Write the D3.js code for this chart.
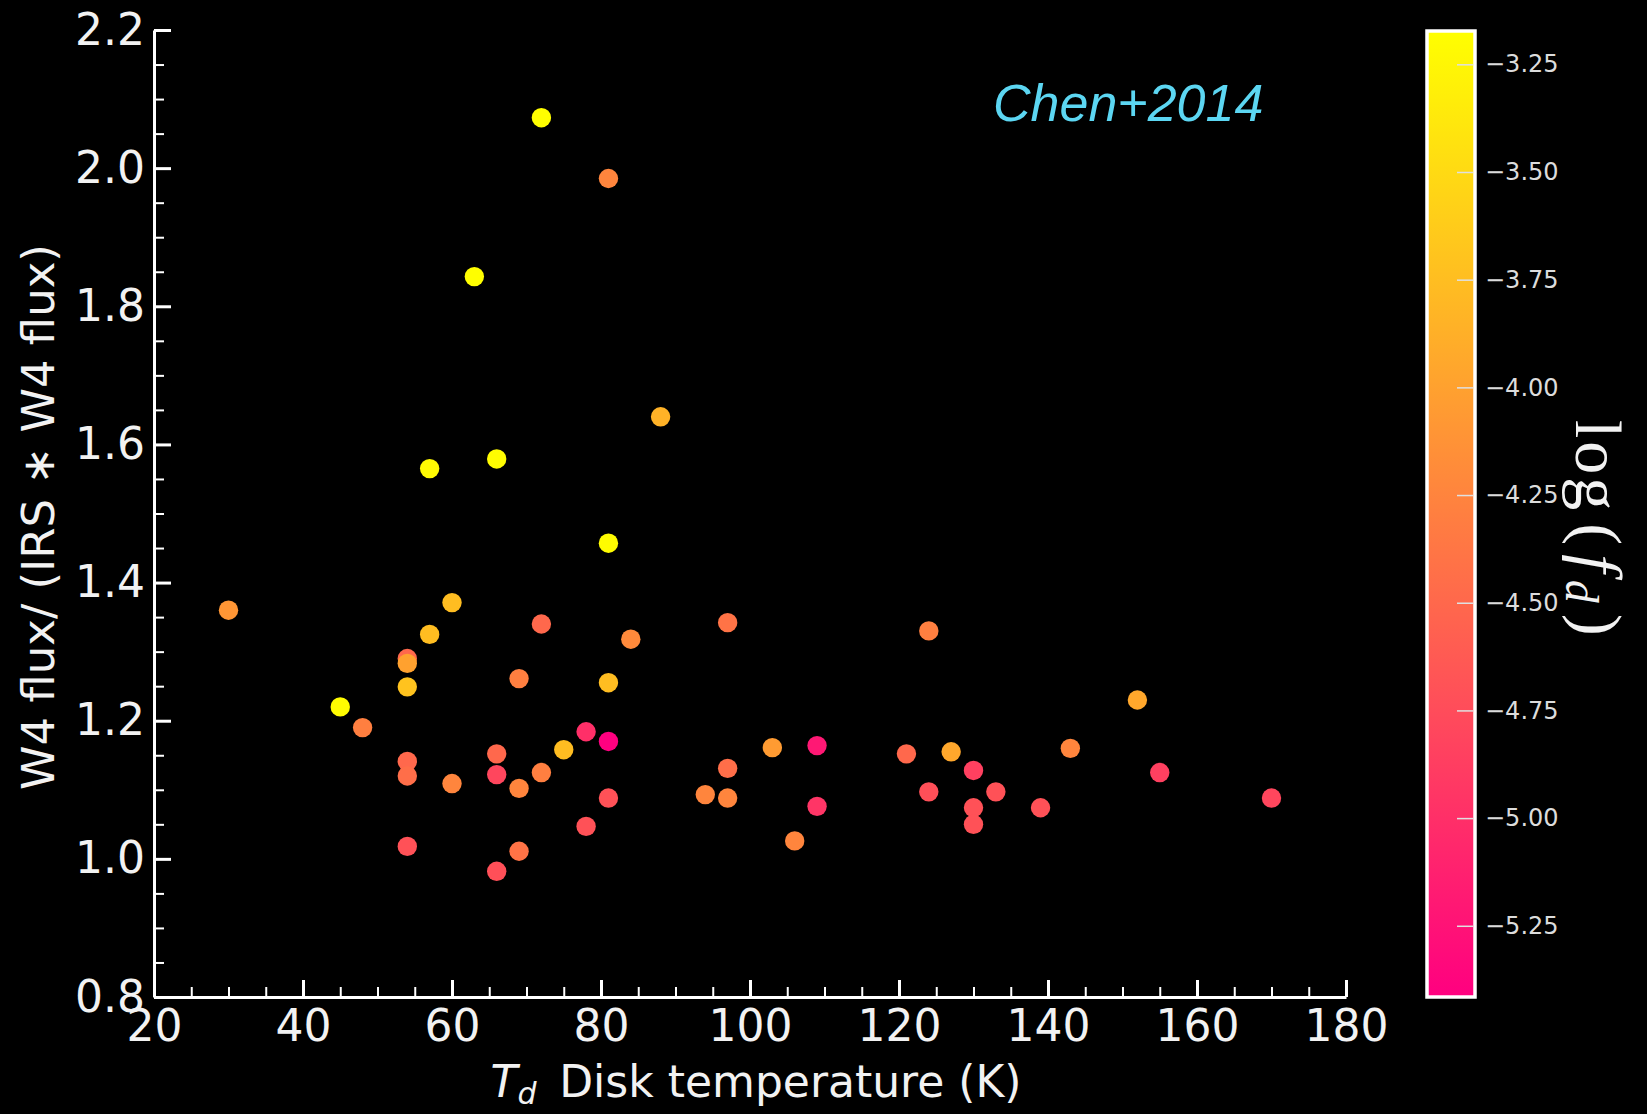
<!DOCTYPE html>
<html>
<head>
<meta charset="utf-8">
<script src="https://cdn.jsdelivr.net/npm/d3@7/dist/d3.min.js"></script>
<style>
  html, body { margin: 0; padding: 0; background: #000; }
  svg { display: block; }
  text { font-family: "DejaVu Sans", sans-serif; }
</style>
</head>
<body>
<div id="chart"></div>
<script>
// disk temperature (K)
var tempK = [30, 45, 48, 54, 54, 54, 54, 54, 54, 57, 57, 60, 60, 63, 66, 66, 66, 66,
  69, 69, 69, 72, 72, 72, 75, 78, 78, 81, 81, 81, 81, 81, 84, 88, 94, 97, 97, 97,
  103, 106, 109, 109, 121, 124, 124, 127, 130, 130, 130, 133, 139, 143, 152, 155, 170]
// W4 flux / (IRS * W4 flux)
var fluxRatio = [1.360, 1.220, 1.190, 1.290, 1.283, 1.249, 1.141, 1.120, 1.018, 1.565, 1.325, 1.109, 1.371, 1.843, 1.579, 1.152, 1.122, 0.982,
  1.261, 1.102, 1.011, 2.073, 1.340, 1.125, 1.158, 1.184, 1.047, 1.985, 1.457, 1.255, 1.170, 1.088, 1.318, 1.640, 1.093, 1.342, 1.131, 1.088,
  1.161, 1.026, 1.164, 1.076, 1.152, 1.330, 1.097, 1.155, 1.128, 1.074, 1.050, 1.097, 1.074, 1.160, 1.230, 1.125, 1.088]
// log(f_d)
var logFd = [-4.10, -3.20, -4.30, -4.50, -4.00, -3.70, -4.50, -4.45, -4.70, -3.22, -3.75, -4.25, -3.75, -3.18, -3.20, -4.50, -4.80, -4.72,
  -4.30, -4.25, -4.40, -3.18, -4.50, -4.30, -3.75, -5.00, -4.70, -4.25, -3.20, -3.75, -5.41, -4.70, -4.20, -3.85, -4.25, -4.40, -4.45, -4.25,
  -4.05, -4.25, -5.20, -4.95, -4.50, -4.30, -4.72, -3.95, -4.85, -4.70, -4.70, -4.70, -4.70, -4.25, -3.95, -4.85, -4.80]

var xTicks = [20, 40, 60, 80, 100, 120, 140, 160, 180]
var yTicks = [0.8, 1.0, 1.2, 1.4, 1.6, 1.8, 2.0, 2.2]
var cbTicks = [-3.25, -3.50, -3.75, -4.00, -4.25, -4.50, -4.75, -5.00, -5.25]
var cbRange = [-5.413, -3.175]

var width = 1647, height = 1114
var plot = { left: 154, right: 1346, top: 30, bottom: 997 }

var svg = d3.select("#chart").append("svg")
  .attr("width", width)
  .attr("height", height)
  .style("background", "#000")

var x = d3.scaleLinear().domain([20, 180]).range([plot.left, plot.right])
var y = d3.scaleLinear().domain([0.8, 2.2]).range([plot.bottom, plot.top])
var color = d3.scaleLinear().domain(cbRange).range(["#ff0080", "#ffff00"]).interpolate(d3.interpolateRgb)

var xMinor = d3.range(20, 180.1, 5).filter(function (v) { return v % 20 !== 0 })
var yMinor = d3.range(0, 29).map(function (i) { return +(0.8 + i * 0.05).toFixed(2) })
  .filter(function (v) { return Math.abs(v * 5 - Math.round(v * 5)) > 1e-6 })

// minor ticks
svg.append("g")
  .attr("transform", "translate(0," + plot.bottom + ")")
  .call(d3.axisBottom(x).tickValues(xMinor).tickSizeInner(-10).tickSizeOuter(0).tickFormat(""))
  .call(function (g) { g.select(".domain").remove() })
  .selectAll("line").attr("stroke", "#fff").attr("stroke-width", 2)

svg.append("g")
  .attr("transform", "translate(" + plot.left + ",0)")
  .call(d3.axisLeft(y).tickValues(yMinor).tickSizeInner(-10).tickSizeOuter(0).tickFormat(""))
  .call(function (g) { g.select(".domain").remove() })
  .selectAll("line").attr("stroke", "#fff").attr("stroke-width", 2)

// major ticks + labels
var xAxis = svg.append("g")
  .attr("transform", "translate(0," + plot.bottom + ")")
  .call(d3.axisBottom(x).tickValues(xTicks).tickSizeInner(-17).tickSizeOuter(0).tickPadding(13).tickFormat(d3.format("d")))

var yAxis = svg.append("g")
  .attr("transform", "translate(" + plot.left + ",0)")
  .call(d3.axisLeft(y).tickValues(yTicks).tickSizeInner(-17).tickSizeOuter(0).tickPadding(9).tickFormat(d3.format(".1f")))

;[xAxis, yAxis].forEach(function (g) {
  g.select(".domain").attr("stroke", "#fff").attr("stroke-width", 3)
  g.selectAll(".tick line").attr("stroke", "#fff").attr("stroke-width", 3)
  g.selectAll(".tick text")
    .attr("fill", "#f2f2f2")
    .style("font-size", "44px")
    .style("font-family", "DejaVu Sans")
})

// scatter points
svg.append("g").selectAll("circle")
  .data(tempK)
  .enter().append("circle")
  .attr("cx", function (d) { return x(d) })
  .attr("cy", function (d, i) { return y(fluxRatio[i]) })
  .attr("r", 9.7)
  .attr("fill", function (d, i) { return color(logFd[i]) })

// axis titles
var xTitle = svg.append("text")
  .attr("x", 756)
  .attr("y", 1097)
  .attr("text-anchor", "middle")
  .attr("fill", "#f2f2f2")
  .style("font-size", "44px")
xTitle.append("tspan").style("font-style", "italic").text("T")
xTitle.append("tspan").attr("dy", 7).style("font-style", "italic").style("font-size", "30px").text("d")
xTitle.append("tspan").attr("dy", -7).text("\u2009 Disk temperature (K)")

svg.append("text")
  .attr("transform", "translate(54,517) rotate(-90)")
  .attr("text-anchor", "middle")
  .attr("fill", "#f2f2f2")
  .style("font-size", "45px")
  .text("W4 flux/ (IRS \u2217 W4 flux)")

svg.append("text")
  .attr("x", 993)
  .attr("y", 121)
  .attr("fill", "#5cd6f2")
  .style("font-family", "Liberation Sans, Arial, sans-serif")
  .style("font-style", "italic")
  .style("font-size", "52px")
  .text("Chen+2014")

// colorbar
var cb = { left: 1427, width: 48, top: 31, bottom: 997 }
var cbScale = d3.scaleLinear().domain(cbRange).range([cb.bottom - 1, cb.top + 1])

var grad = svg.append("defs").append("linearGradient")
  .attr("id", "cbgrad")
  .attr("x1", 0).attr("y1", 1).attr("x2", 0).attr("y2", 0)
grad.selectAll("stop")
  .data(d3.range(0, 1.001, 0.1))
  .enter().append("stop")
  .attr("offset", function (d) { return d })
  .attr("stop-color", function (d) { return color(cbRange[0] + d * (cbRange[1] - cbRange[0])) })

svg.append("rect")
  .attr("x", cb.left)
  .attr("y", cb.top)
  .attr("width", cb.width)
  .attr("height", cb.bottom - cb.top)
  .attr("fill", "url(#cbgrad)")
  .attr("stroke", "#fff")
  .attr("stroke-width", 3.5)

var cbAxis = svg.append("g")
  .attr("transform", "translate(" + (cb.left + cb.width - 2) + ",0)")
  .call(d3.axisRight(cbScale).tickValues(cbTicks).tickSizeInner(-16).tickSizeOuter(0).tickPadding(12).tickFormat(d3.format(".2f")))
cbAxis.select(".domain").remove()
cbAxis.selectAll(".tick line").attr("stroke", "#e0e0e0").attr("stroke-width", 1.5)
cbAxis.selectAll(".tick text")
  .attr("fill", "#dcdcdc")
  .style("font-size", "24px")
  .style("font-family", "DejaVu Sans")

var cbLabel = svg.append("text")
  .attr("transform", "translate(1576,420) rotate(90)")
  .attr("fill", "#f2f2f2")
  .style("font-family", "Liberation Serif, DejaVu Serif, serif")
  .style("font-size", "66px")
  .style("letter-spacing", "3px")
cbLabel.append("tspan").text("log")
cbLabel.append("tspan").attr("dx", 10).text("(")
cbLabel.append("tspan").attr("dx", 6).style("font-style", "italic").text("f")
cbLabel.append("tspan").attr("dx", 4).attr("dy", 10).style("font-style", "italic").style("font-size", "46px").text("d")
cbLabel.append("tspan").attr("dx", 8).attr("dy", -10).text(")")
</script>
</body>
</html>
